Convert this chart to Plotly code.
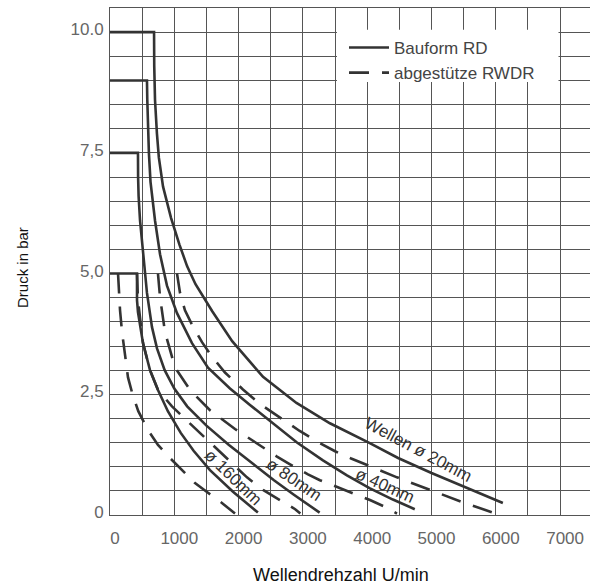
import plotly.graph_objects as go

# ---- data (Drehzahl in U/min, Druck in bar) ----
s20_x = [0, 685, 688, 700, 730, 760, 825, 950, 1080, 1200, 1330, 1590, 1900, 2380, 2900, 3420, 4040, 4480, 5000, 5520, 6110]
s20_y = [10, 10, 9.3, 8.6, 7.9, 7.4, 6.8, 6.15, 5.6, 5.15, 4.78, 4.22, 3.6, 2.86, 2.32, 1.90, 1.49, 1.18, 0.87, 0.58, 0.25]

s40_x = [0, 575, 580, 590, 605, 630, 700, 778, 886, 1042, 1275, 1524, 1866, 2177, 2535, 2908, 3312, 3685, 4043, 4400, 4740]
s40_y = [9, 9, 8.6, 8.0, 7.5, 6.9, 6.1, 5.4, 4.75, 4.18, 3.56, 3.05, 2.62, 2.28, 1.90, 1.50, 1.13, 0.82, 0.55, 0.32, 0.12]

s80_x = [0, 435, 437, 445, 467, 513, 544, 575, 653, 731, 850, 1000, 1200, 1500, 1850, 2200, 2550, 2860, 3100, 3260]
s80_y = [7.5, 7.5, 7.0, 6.6, 6.1, 5.42, 5.07, 4.6, 3.89, 3.45, 3.0, 2.62, 2.25, 1.85, 1.45, 1.08, 0.72, 0.42, 0.20, 0.05]

s160_x = [0, 420, 420, 435, 513, 622, 746, 900, 1100, 1300, 1555, 1913, 2150, 2300]
s160_y = [5, 5, 4.45, 4.2, 3.56, 3.0, 2.59, 2.15, 1.70, 1.33, 0.93, 0.48, 0.22, 0.05]

d20_x = [1042, 1060, 1089, 1166, 1291, 1431, 1586, 1788, 2068, 2333, 2600, 2950, 3250, 3500, 3750, 3965, 4463, 4976, 5474, 6065]
d20_y = [5.0, 4.8, 4.6, 4.24, 3.9, 3.58, 3.28, 2.95, 2.6, 2.3, 2.05, 1.74, 1.50, 1.32, 1.17, 1.05, 0.78, 0.52, 0.27, 0.0]

d40_x = [746, 760, 778, 855, 1010, 1244, 1555, 1944, 2300, 2597, 2800, 3079, 3265, 3577, 3780, 4043, 4276, 4463]
d40_y = [5.0, 4.75, 4.51, 3.79, 3.06, 2.59, 2.17, 1.78, 1.46, 1.21, 1.05, 0.84, 0.72, 0.56, 0.46, 0.31, 0.17, 0.03]

d80_x = [420, 425, 435, 513, 622, 746, 964, 1200, 1555, 1913, 2130, 2380, 2650, 2880, 2960]
d80_y = [5.0, 4.7, 4.45, 3.56, 3.0, 2.59, 2.25, 1.95, 1.50, 1.05, 0.78, 0.52, 0.30, 0.12, 0.03]

d160_x = [125, 140, 156, 187, 233, 280, 350, 440, 591, 746, 933, 1120, 1322, 1524, 1741, 1944]
d160_y = [5.0, 4.6, 4.24, 3.79, 3.29, 2.85, 2.50, 2.15, 1.76, 1.45, 1.18, 0.93, 0.66, 0.46, 0.25, 0.03]

x_ticks = [0, 1000, 2000, 3000, 4000, 5000, 6000, 7000]
x_ticktext = ["0", "1000", "2000", "3000", "4000", "5000", "6000", "7000"]
y_ticks = [0, 2.5, 5, 7.5, 10]
y_ticktext = ["0", "2,5", "5,0", "7,5", "10.0"]

legend_solid = "Bauform RD"
legend_dash = "abgestütze RWDR"

labels = [
    ("Wellen ø 20mm", 4790, 1.36, 28),
    ("ø 40mm", 4276, 0.62, 24),
    ("ø 80mm", 2861, 0.74, 34),
    ("ø 160mm", 1913, 0.77, 44),
]

LINE = "#333333"
GRID = "#555555"

fig = go.Figure()

solid = [(s20_x, s20_y), (s40_x, s40_y), (s80_x, s80_y), (s160_x, s160_y)]
dashed = [(d20_x, d20_y), (d40_x, d40_y), (d80_x, d80_y), (d160_x, d160_y)]

for i, (xs, ys) in enumerate(solid):
    fig.add_trace(go.Scatter(x=xs, y=ys, mode="lines", name=legend_solid,
                             showlegend=(i == 0), legendrank=1,
                             line=dict(color=LINE, width=2.6)))
for i, (xs, ys) in enumerate(dashed):
    fig.add_trace(go.Scatter(x=xs, y=ys, mode="lines", name=legend_dash,
                             showlegend=(i == 0), legendrank=2,
                             line=dict(color=LINE, width=2.6, dash="20px,13px")))

# white box behind legend (hides the grid there)
fig.add_shape(type="rect", xref="x", yref="y", x0=3530, x1=6975, y0=8.97, y1=10.05,
              fillcolor="white", line=dict(width=0), layer="between")

for text, x, y, ang in labels:
    fig.add_annotation(x=x, y=y, xref="x", yref="y", text=text, showarrow=False,
                       textangle=ang, font=dict(size=17, color="#333333"))

fig.add_annotation(x=(341 - 110) / 480, y=(515 - 575) / 507, xref="paper", yref="paper",
                   text="Wellendrehzahl U/min", showarrow=False,
                   font=dict(size=18, color="#111111"), xanchor="center", yanchor="middle")
fig.add_annotation(x=(22 - 110) / 480, y=(515 - 268) / 507, xref="paper", yref="paper",
                   text="Druck in bar", showarrow=False, textangle=-90,
                   font=dict(size=15, color="#111111"), xanchor="center", yanchor="middle")

fig.update_layout(
    width=590, height=587,
    margin=dict(l=110, r=0, t=8, b=72),
    paper_bgcolor="white", plot_bgcolor="white",
    font=dict(family="Liberation Sans, Arial, sans-serif", color="#555555"),
    legend=dict(x=(344 - 110) / 480, y=(515 - 30) / 507, xanchor="left", yanchor="top",
                bgcolor="rgba(0,0,0,0)", font=dict(size=17, color="#444444"),
                tracegroupgap=0, itemwidth=40),
)
fig.update_xaxes(range=[0, 7465], tickmode="array", tickvals=x_ticks, ticktext=x_ticktext,
                 showgrid=True, gridcolor=GRID, gridwidth=1, zeroline=False,
                 showline=True, linecolor=GRID, linewidth=1, mirror=True,
                 ticks="", ticklabelstandoff=8, ticklabelshift=5,
                 tickfont=dict(size=17, color="#666666"),
                 minor=dict(tickmode="linear", tick0=0, dtick=500, showgrid=True,
                            gridcolor=GRID, gridwidth=1))
fig.update_yaxes(range=[0, 10.5], tickmode="array", tickvals=y_ticks, ticktext=y_ticktext,
                 showgrid=True, gridcolor=GRID, gridwidth=1, zeroline=False,
                 showline=True, linecolor=GRID, linewidth=1,
                 ticks="", ticklabelstandoff=2, ticklabelshift=-3,
                 tickfont=dict(size=17, color="#666666"),
                 minor=dict(tickmode="linear", tick0=0, dtick=0.5, showgrid=True,
                            gridcolor=GRID, gridwidth=1))

fig.write_html("out.html", config={"displayModeBar": False},
               post_script="document.body.style.margin='0px';")
